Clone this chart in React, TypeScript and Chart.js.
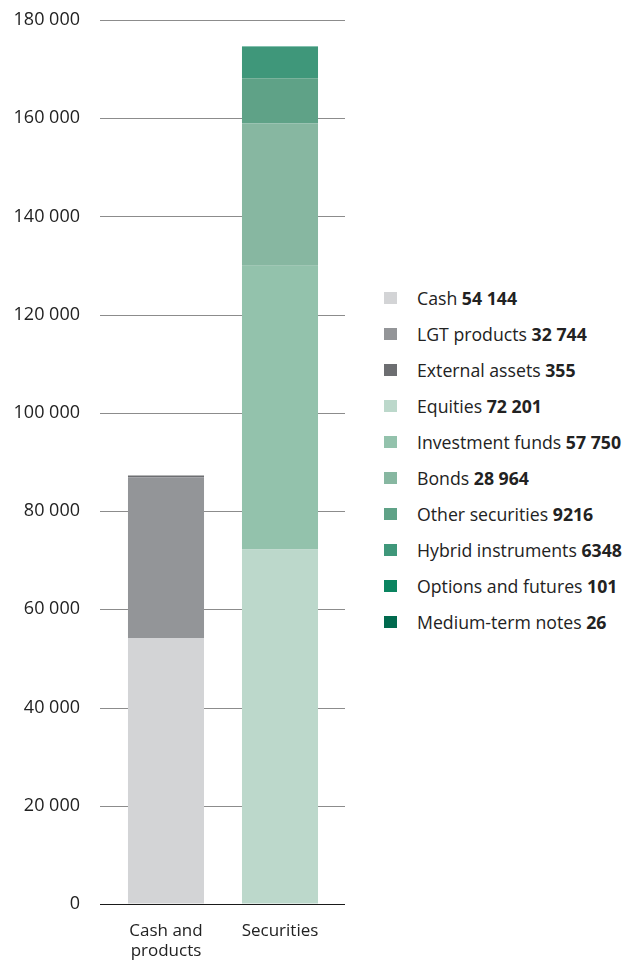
import React, { useEffect, useRef } from "react";
import { Chart, registerables } from "chart.js";

Chart.register(...registerables);

const categories: (string | string[])[] = [["Cash and", "products"], "Securities"];
const yTicks = [0, 20000, 40000, 60000, 80000, 100000, 120000, 140000, 160000, 180000];

const cashSeries = ["Cash", "LGT products", "External assets"];
const cashValues = [54144, 32744, 355];
const cashColors = ["#d3d4d6", "#939598", "#6d6e71"];

const secSeries = [
  "Equities",
  "Investment funds",
  "Bonds",
  "Other securities",
  "Hybrid instruments",
  "Options and futures",
  "Medium-term notes",
];
const secValues = [72201, 57750, 28964, 9216, 6348, 101, 26];
const secColors = ["#bcd8cb", "#93c2ac", "#87b7a1", "#5fa287", "#3f977a", "#0b8460", "#006a4e"];

const legendLabels = [...cashSeries, ...secSeries];
const legendValues = ["54 144", "32 744", "355", "72 201", "57 750", "28 964", "9216", "6348", "101", "26"];
const legendColors = [...cashColors, ...secColors];

const FONT = "'Open Sans', sans-serif";

function fmt(v: number) {
  return String(v).replace(/\B(?=(\d{3})+(?!\d))/g, " ");
}

export default function App() {
  const ref = useRef<HTMLCanvasElement | null>(null);

  useEffect(() => {
    document.documentElement.style.overflow = "hidden";
    if (!ref.current) return;
    const datasets: any[] = [];
    cashSeries.forEach((name, i) => {
      datasets.push({ label: name, data: [cashValues[i], null], backgroundColor: cashColors[i] });
    });
    secSeries.forEach((name, i) => {
      datasets.push({ label: name, data: [null, secValues[i]], backgroundColor: secColors[i] });
    });

    const gridPlugin = {
      id: "customGrid",
      beforeDatasetsDraw(chart: any) {
        const { ctx, chartArea, scales } = chart;
        ctx.save();
        ctx.strokeStyle = "#8c8c8c";
        ctx.lineWidth = 1;
        yTicks.forEach((v) => {
          if (v === 0) return;
          const y = Math.round(scales.y.getPixelForValue(v)) + 0.5;
          ctx.beginPath();
          ctx.moveTo(chartArea.left - 9, y);
          ctx.lineTo(chartArea.right + 8, y);
          ctx.stroke();
        });
        ctx.restore();
      },
      afterDatasetsDraw(chart: any) {
        const { ctx, chartArea, scales } = chart;
        ctx.save();
        ctx.strokeStyle = "#1a1a1a";
        ctx.lineWidth = 1;
        const y = Math.round(scales.y.getPixelForValue(0)) + 0.5;
        ctx.beginPath();
        ctx.moveTo(chartArea.left - 9, y);
        ctx.lineTo(chartArea.right + 8, y);
        ctx.stroke();
        ctx.restore();
      },
    };

    const chart = new Chart(ref.current, {
      type: "bar",
      data: { labels: categories as any, datasets },
      plugins: [gridPlugin],
      options: {
        responsive: false,
        animation: false,
        layout: { padding: { top: 12, right: 21, left: 0, bottom: 0 } },
        datasets: { bar: { barPercentage: 0.667, categoryPercentage: 1 } } as any,
        plugins: { legend: { display: false }, tooltip: { enabled: false } },
        scales: {
          x: {
            stacked: true,
            grid: { display: false, drawTicks: false },
            border: { display: false },
            ticks: {
              color: "#222",
              padding: 17,
              maxRotation: 0,
              autoSkip: false,
              font: { family: FONT, size: 17, lineHeight: 1.18 },
            },
            afterFit(scale: any) {
              scale.height = 57;
            },
          },
          y: {
            stacked: true,
            min: 0,
            max: 180000,
            grid: {
              display: true,
              drawOnChartArea: false,
              drawTicks: true,
              tickLength: 29,
              tickColor: "rgba(0,0,0,0)",
              color: "rgba(0,0,0,0)",
            },
            border: { display: false },
            afterBuildTicks(scale: any) {
              scale.ticks = yTicks.map((v) => ({ value: v }));
            },
            ticks: {
              color: "#222",
              padding: 0,
              font: { family: FONT, size: 18 },
              callback: (v: any) => fmt(Number(v)),
            },
            afterFit(scale: any) {
              scale.width = 101;
            },
          },
        },
      },
    });
    return () => chart.destroy();
  }, []);

  return (
    <div style={{ position: "relative", width: 616, height: 955 }}>
      <canvas ref={ref} width={350} height={953} style={{ position: "absolute", left: 0, top: 0 }} />
      <div
        style={{
          position: "absolute",
          left: 376,
          top: 272,
          width: 250,
          fontFamily: FONT,
          fontSize: 17.7,
          color: "#222",
        }}
      >
        {legendLabels.map((l, i) => (
          <div key={l} style={{ display: "flex", alignItems: "center", height: 36, whiteSpace: "nowrap" }}>
            <span
              style={{
                display: "inline-block",
                flex: "none",
                width: 13,
                height: 12,
                background: legendColors[i],
                marginRight: 20,
              }}
            />
            <span>
              {l} <b>{legendValues[i]}</b>
            </span>
          </div>
        ))}
      </div>
    </div>
  );
}
